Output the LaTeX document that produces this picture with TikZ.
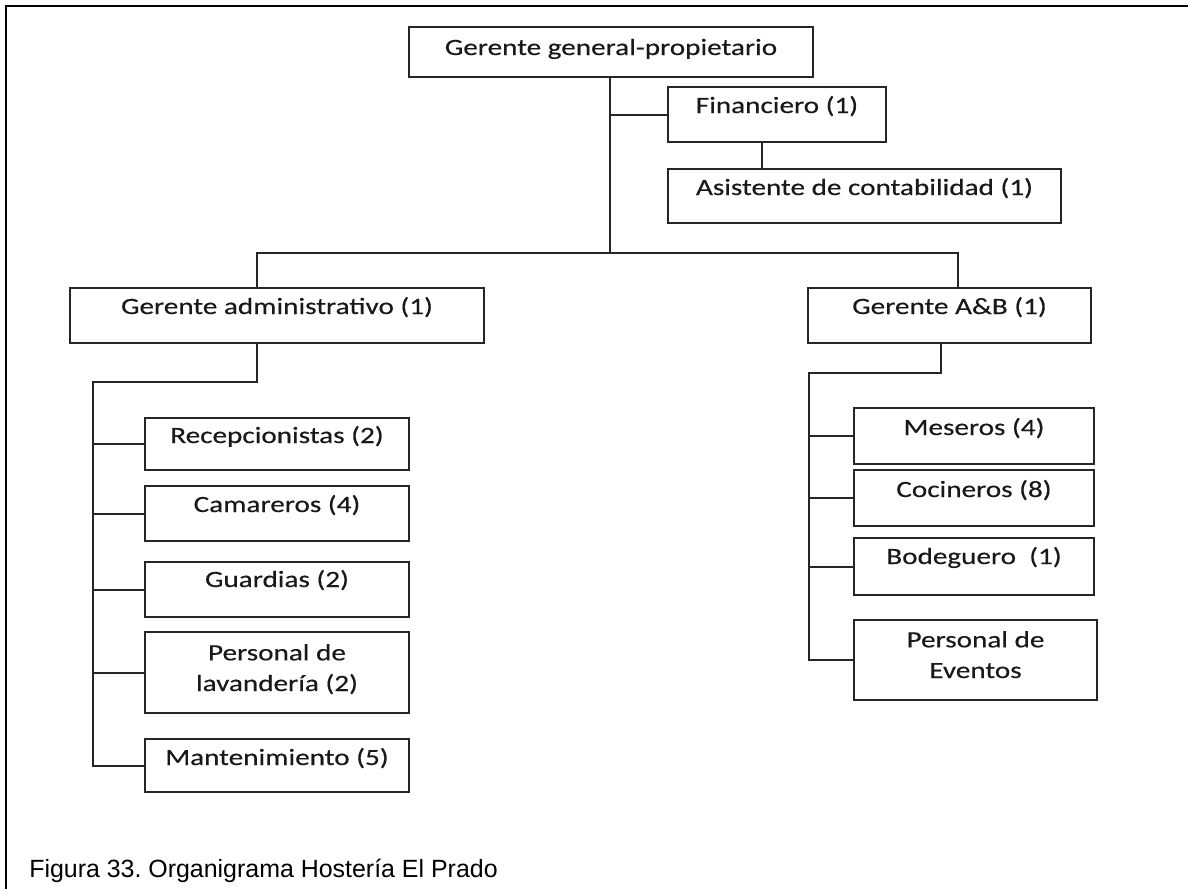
\documentclass[tikz,border=0pt]{standalone}
\usepackage{fontspec}
\setmainfont{Liberation Sans}
\newfontfamily\boxfont[FakeStretch=1.25,FakeBold=0.4]{Carlito}
\usetikzlibrary{calc}
\frenchspacing

\tikzset{
  orgbox/.style={draw=black!85, line width=1.5pt, rectangle, inner sep=0pt},
  orgtext/.style={font=\boxfont\fontsize{17.5pt}{23pt}\selectfont, text=black!90,
                  inner sep=0pt, align=center, anchor=base},
  link/.style={draw=black!85, line width=1.5pt},
  frame/.style={draw=black, line width=2pt},
  caption/.style={font=\fontsize{18.7pt}{22pt}\selectfont, inner sep=0pt, anchor=base west},
}

% \orgbox[drop]{name}{x1}{y1}{x2}{y2}{label}: a box given by its corners;
% the last baseline of the label sits <drop> units below the top edge
\newcommand\orgbox[7][27]{%
  \node[orgbox, minimum width={(#5-#3)*0.75pt}, minimum height={(#6-#4)*0.75pt}]
    (#2) at ({(#3+#5)/2},{(#4+#6)/2}) {};
  \node[orgtext] (#2-t) at ([yshift={-#1*0.75pt}]#2.north) {#7};
}

\begin{document}
\begin{tikzpicture}[x=0.75pt,y=-0.75pt]
\useasboundingbox (0,0) rectangle (1188,889);

% page frame
\draw[frame] (6,889) -- (6,6) -- (1188,6);

% top of the chart
\orgbox[29]{gg}{409}{27}{813}{77}{Gerente general-propietario}
\orgbox{fin}{668}{87}{886}{142}{Financiero (1)}
\orgbox{asi}{668}{169}{1061}{223}{Asistente de contabilidad (1)}

% the two managers
\orgbox{adm}{70}{288}{484}{343}{Gerente administrativo (1)}
\orgbox{ab}{808}{288}{1091}{343}{Gerente A\&B (1)}

% administrative staff
\orgbox[26]{rec}{145}{418}{409}{470}{Recepcionistas (2)}
\orgbox{cam}{145}{486}{409}{541}{Camareros (4)}
\orgbox[26]{gua}{145}{562}{409}{617}{Guardias (2)}
\orgbox[60]{lav}{145}{632}{409}{713}{Personal de\\lavander\'ia (2)}
\orgbox{man}{145}{739}{409}{792}{Mantenimiento (5)}

% food and beverage staff
\orgbox[28]{mes}{854}{408}{1094}{464}{Meseros (4)}
\orgbox[28]{coc}{854}{470}{1094}{526}{Cocineros (8)}
\orgbox{bod}{854}{538}{1094}{595}{Bodeguero~ (1)}
\orgbox[59]{eve}{854}{620}{1097}{700}{Personal de\\Eventos}

% junction points of the connector lines
\coordinate (bus) at (610,253);
\coordinate (admbus) at (93,382);
\coordinate (abbus) at (809,373);

% connectors from the general manager
\draw[link] ([xshift=-0.75pt]gg.south) |- (fin.west);
\draw[link] ([xshift=-0.75pt]gg.south) -- (bus);
\draw[link] (bus) -| ([xshift=-15pt]adm.north);
\draw[link] (bus) -| ([xshift=6.4pt]ab.north);
\draw[link] ([xshift=-11.25pt]fin.south) -- ([xshift=-11.25pt]fin.south |- asi.north);

% administrative branch
\draw[link] ([xshift=-15pt]adm.south) |- (admbus) -- (admbus |- man.west) -- (man.west);
\foreach \n in {rec,cam,gua,lav}
  \draw[link] (admbus |- \n.west) -- (\n.west);

% food and beverage branch
\draw[link] ([xshift=-6.4pt]ab.south) |- (abbus) -- (abbus |- eve.west) -- (eve.west);
\foreach \n in {mes,coc,bod}
  \draw[link] (abbus |- \n.west) -- (\n.west);

% caption
\node[caption] (cap) at (29,877) {Figura 33. Organigrama Hoster\'ia El Prado};
\end{tikzpicture}
\end{document}
